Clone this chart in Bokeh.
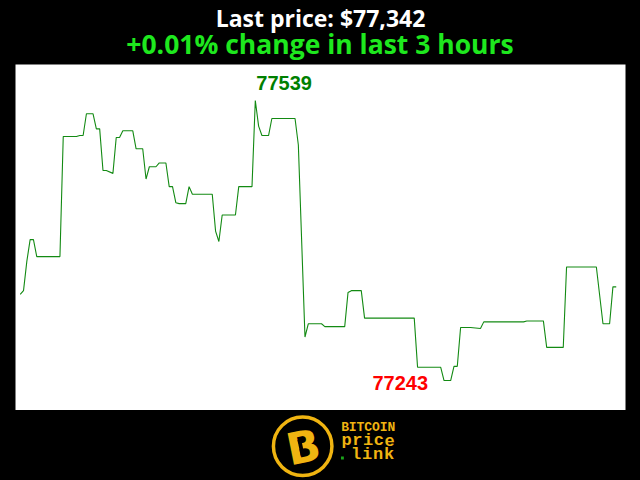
from bokeh.plotting import figure
from bokeh.layouts import column
from bokeh.models import Range1d, GlobalInlineStyleSheet
from bokeh.core.properties import value
from bokeh.embed import file_html
from bokeh.resources import INLINE

# Price samples over the last 3 hours (minute index, USD); flat runs shown by their end points
minutes = [0, 1, 2, 3, 4, 5, 12, 13, 17, 18, 19, 20, 22, 23, 24, 25, 26, 28, 29, 30,
           31, 34, 35, 37, 38, 39, 41, 42, 44, 45, 46, 47, 48, 50, 51, 52, 58, 59, 60, 61,
           65, 66, 70, 71, 72, 73, 75, 76, 83, 84, 86, 87, 91, 92, 98, 99, 100, 103, 104, 119,
           120, 127, 128, 130, 131, 132, 133, 136, 139, 140, 152, 153, 158, 159, 164, 165, 174, 176, 178, 179,
           180]
prices = [77334, 77338, 77369, 77392, 77392, 77374, 77374, 77501, 77501, 77502, 77502, 77525, 77525, 77509, 77509, 77465, 77465, 77462, 77500, 77500,
          77507, 77507, 77488, 77488, 77456, 77469, 77469, 77473, 77473, 77448, 77448, 77431, 77430, 77430, 77448, 77440, 77440, 77401, 77390, 77418,
          77418, 77448, 77448, 77539, 77512, 77502, 77502, 77520, 77520, 77492, 77289, 77303, 77303, 77300, 77300, 77336, 77338, 77338, 77309, 77309,
          77257, 77257, 77243, 77243, 77258, 77258, 77299, 77299, 77298, 77305, 77305, 77306, 77306, 77278, 77278, 77363, 77363, 77303, 77303, 77342,
          77342]

last_price = prices[-1]
first_price = prices[0]
pct = (last_price - first_price) / first_price * 100
title_text = "Last price: ${:,}".format(last_price)
sub_text = "{:+.2f}% change in last 3 hours".format(pct)

imax = prices.index(max(prices))
imin = prices.index(min(prices))

GOLD = "#f0b411"


def strip(h):
    f = figure(width=640, height=h, x_range=Range1d(0, 640), y_range=Range1d(h, 0),
               title=None, output_backend="svg", toolbar_location=None,
               x_axis_location=None, y_axis_location=None,
               min_border=0, background_fill_color="black", border_fill_color="black",
               outline_line_color=None)
    f.grid.visible = False
    return f


# ---------- title strip ----------
t = strip(64)
t.text(x=[320], y=[17], text=[title_text], text_align="center", text_baseline="alphabetic",
       text_font=value("Open Sans"), text_font_style="bold", text_font_size="23px",
       text_color="white")
t.text(x=[319.5], y=[43.5], text=[sub_text], text_align="center", text_baseline="alphabetic",
       text_font=value("Open Sans"), text_font_style="bold", text_font_size="26.5px",
       text_color="#1ee81e")

# ---------- main chart ----------
p = figure(width=640, height=346, x_range=Range1d(-1.42, 182.8), y_range=Range1d(77211.3, 77577.1),
           title=None, output_backend="svg", toolbar_location=None,
           x_axis_location=None, y_axis_location=None,
           min_border_left=15, min_border_right=15, min_border_top=0, min_border_bottom=0,
           background_fill_color="white", border_fill_color="black", outline_line_color=None)
p.grid.visible = False
p.line(minutes, prices, line_color="#138a13", line_width=1.1)
p.text(x=[minutes[imax]], y=[prices[imax]], text=[str(prices[imax])], text_align="left",
       text_baseline="alphabetic", x_offset=1, y_offset=-17.5,
       text_font=value("Liberation Sans"), text_font_style="bold", text_font_size="20px",
       text_color="#008000")
p.text(x=[minutes[imin]], y=[prices[imin]], text=[str(prices[imin])], text_align="right",
       text_baseline="alphabetic", x_offset=-16, y_offset=2,
       text_font=value("Liberation Sans"), text_font_style="bold", text_font_size="20px",
       text_color="#ff0000")

# ---------- logo strip ----------
g = strip(70)
g.scatter(x=[301.3], y=[35.8], size=58.5, marker="circle", fill_color=None,
          line_color=GOLD, line_width=3.5)
g.text(x=[302], y=[36.5], text=["B"], text_align="center", text_baseline="middle", angle=0.2,
       text_font=value("DejaVu Sans"), text_font_style="bold", text_font_size="44px",
       text_color=GOLD)
g.rect(x=[299.5], y=[37], width=4, height=16, angle=0.2, fill_color="black", line_color=None)


def spaced(word, x0, pitch, y, size):
    xs = [x0 + pitch * (i + 0.5) for i in range(len(word))]
    g.text(x=xs, y=[y] * len(word), text=list(word), text_align="center", text_baseline="alphabetic",
           text_font=value("Liberation Mono"), text_font_style="bold", text_font_size=size,
           text_color=GOLD)


spaced("BITCOIN", 341.7, 8.1, 17, "13px")
spaced("price", 341.7, 11.3, 30, "17px")
spaced("link", 351.7, 11.5, 44, "17px")
g.rect(x=[343], y=[47.5], width=3, height=3, fill_color="#1aa51a", line_color=None)

layout = column(t, p, g, spacing=0,
                stylesheets=[GlobalInlineStyleSheet(css="html, body { background-color: #000000; }")])

open("out.html", "w").write(file_html(layout, INLINE))
